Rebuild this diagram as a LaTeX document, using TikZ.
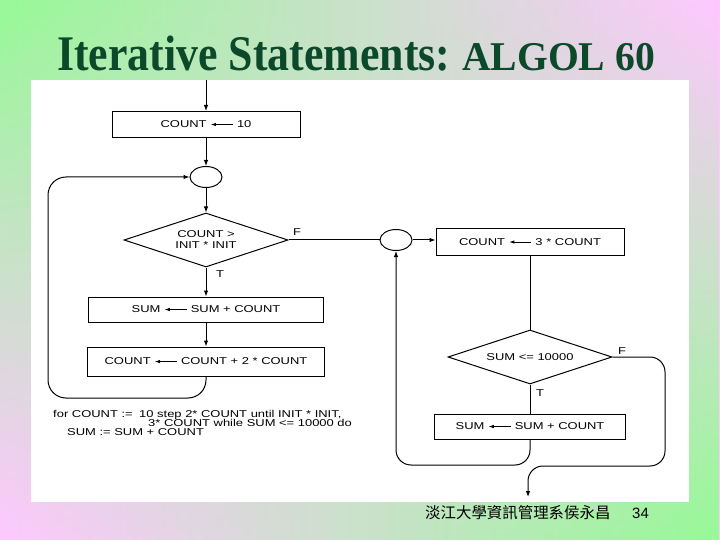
\documentclass[tikz,border=0pt]{standalone}
\usepackage{fontspec}
\setmainfont{Liberation Sans}
\newfontfamily\titlefont{Liberation Serif}
\newfontfamily\cjkfont{Noto Sans CJK TC}
\usetikzlibrary{arrows.meta,shapes.geometric,fadings}
\definecolor{bggreen}{RGB}{150,250,150}
\definecolor{bgpink}{RGB}{255,200,255}
\definecolor{titlegreen}{RGB}{12,72,42}
\newcommand{\flowtxt}[1]{\scalebox{1.3}[1]{#1}}
\newcommand{\getsarrow}{\tikz[baseline=-3.4pt]\draw[line width=0.9pt,{Latex[length=4pt,width=3.6pt]}-] (0pt,0pt)--(17pt,0pt);}
\tikzfading[name=fadeup, top color=transparent!100, bottom color=transparent!0]
\tikzset{
  flow/.style={font=\fontsize{10}{11}\selectfont, text=black},
  proc/.style={draw, line width=1bp, minimum height=26bp, inner sep=0pt, flow},
  dec/.style={diamond, draw, line width=1bp, inner sep=0pt, aspect=3,
    minimum width=164bp, minimum height=54bp, flow, align=center},
  junct/.style={ellipse, draw, line width=1bp, minimum width=32bp, minimum height=21bp, inner sep=0pt},
  conn/.style={line width=1bp},
  arr/.style={conn, -{Latex[length=6bp,width=4.5bp]}},
  lbl/.style={flow, inner sep=0pt},
  code/.style={flow, inner sep=0pt, anchor=base west},
}
\begin{document}
\begin{tikzpicture}[x=1bp,y=-1bp]
\useasboundingbox (0,0) rectangle (720,540);
% background
\shade[left color=bggreen, right color=bgpink] (0,0) rectangle (720,540);
\shade[left color=bgpink, right color=bggreen, path fading=fadeup] (0,0) rectangle (720,540);
% title
\node[anchor=base west, inner sep=0pt, text=titlegreen] (title1) at (57,71)
  {\scalebox{0.88}[1]{\titlefont\bfseries\fontsize{50}{50}\selectfont Iterative Statements:}};
\node[anchor=base west, inner sep=0pt, text=titlegreen] (title2) at (462,71)
  {\scalebox{0.97}[1]{\titlefont\bfseries\fontsize{41}{41}\selectfont ALGOL 60}};
% white panel
\fill[white] (31,80) rectangle (689,502);

% left column
\coordinate (entry) at (206,80);
\node[proc, minimum width=188bp] (b1) at (206,124.5) {\flowtxt{COUNT \getsarrow{} 10}};
\node[junct] (c1) at (206,177) {};
\node[dec] (d1) at (206,240) {\flowtxt{COUNT >}\\\flowtxt{INIT * INIT}};
\node[proc, minimum width=235bp, minimum height=25bp] (b5) at (206,309.5) {\flowtxt{SUM \getsarrow{} SUM + COUNT}};
\node[proc, minimum width=236bp, minimum height=29bp] (b6) at (206,361.5) {\flowtxt{COUNT \getsarrow{} COUNT + 2 * COUNT}};
\node[lbl] (f1) at (297,232) {\flowtxt{F}};
\node[lbl] (t1) at (220,274) {\flowtxt{T}};

% right column
\node[junct] (c2) at (396,240) {};
\node[proc, minimum width=188bp] (b3) at (530,242) {\flowtxt{COUNT \getsarrow{} 3 * COUNT}};
\node[dec] (d2) at (530,357) {\flowtxt{SUM <= 10000}};
\node[proc, minimum width=191bp, minimum height=25bp] (b4) at (530,426.5) {\flowtxt{SUM \getsarrow{} SUM + COUNT}};
\node[lbl] (f2) at (622,351) {\flowtxt{F}};
\node[lbl] (t2) at (540,393) {\flowtxt{T}};

% connectors
\draw[arr] (entry) -- (b1.north);
\draw[arr] (b1.south) -- (c1.north);
\draw[arr] (c1.south) -- (d1.north);
\draw[arr] (d1.south) -- (b5.north);
\draw[arr] (b5.south) -- (b6.north);
\coordinate (lp1) at (48,398);
\draw[arr, rounded corners=18bp] (b6.south) |- (lp1) |- (c1.west);
\draw[conn] (d1.east) -- (c2.west);
\draw[arr] (c2.east) -- (b3.west |- c2.east);
\draw[conn] (b3.south) -- (d2.north);
\draw[conn] (d2.south) -- (b4.north);
\coordinate (lp2) at (396,465);
\draw[arr, rounded corners=15bp] (b4.south) |- (lp2) -- (c2.south);
\coordinate (lp3) at (665,466);
\coordinate (exit) at (528,497);
\draw[arr, rounded corners=15bp] (d2.east) -| (lp3) -| (exit);

% code text
\node[code] (k1) at (53,417) {\flowtxt{for COUNT :=}};
\node[code] (k2) at (139,417) {\flowtxt{10 step 2* COUNT until INIT * INIT,}};
\node[code] (k3) at (148,426) {\flowtxt{3* COUNT while SUM <= 10000 do}};
\node[code] (k4) at (67,435) {\flowtxt{SUM := SUM + COUNT}};

% footer
\node[anchor=base west, inner sep=0pt] (foot) at (425,518)
  {\cjkfont\fontsize{15.5}{15.5}\selectfont 淡江大學資訊管理系侯永昌};
\node[anchor=base west, inner sep=0pt] (page) at (632,518)
  {\fontsize{15}{15}\selectfont 34};
\end{tikzpicture}
\end{document}
